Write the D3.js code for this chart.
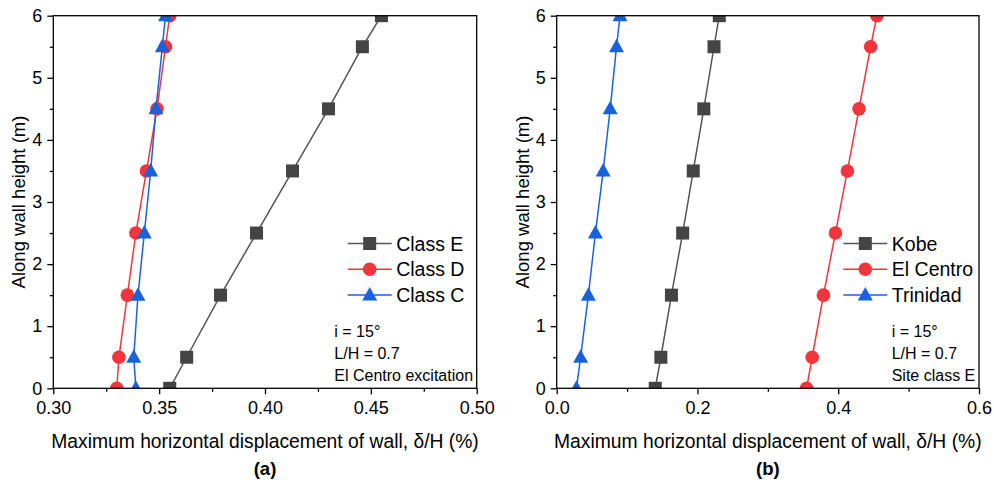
<!DOCTYPE html>
<html><head><meta charset="utf-8">
<script src="https://cdn.jsdelivr.net/npm/d3@7"></script>
<style>body{margin:0;background:#fff}svg{display:block;font-family:"Liberation Sans",Arial,sans-serif}</style>
</head><body><svg id="c" width="994" height="482"></svg>
<script>
const heights = [0, 0.5, 1.5, 2.5, 3.5, 4.5, 5.5, 6];
// Panel (a)
const seriesNamesA = ["Class E", "Class D", "Class C"];
const classE = [0.355, 0.363, 0.379, 0.396, 0.413, 0.430, 0.446, 0.455];
const classD = [0.330, 0.331, 0.335, 0.339, 0.344, 0.349, 0.353, 0.355];
const classC = [0.339, 0.338, 0.340, 0.343, 0.346, 0.3485, 0.3515, 0.353];
const xTicksA = [0.30, 0.35, 0.40, 0.45, 0.50];
const notesA = ["i = 15°", "L/H = 0.7", "El Centro excitation"];
// Panel (b)
const seriesNamesB = ["Kobe", "El Centro", "Trinidad"];
const kobe = [0.140, 0.148, 0.163, 0.179, 0.194, 0.209, 0.2235, 0.231];
const elCentro = [0.355, 0.363, 0.379, 0.396, 0.413, 0.4295, 0.446, 0.455];
const trinidad = [0.028, 0.034, 0.045, 0.055, 0.066, 0.076, 0.085, 0.090];
const xTicksB = [0, 0.2, 0.4, 0.6];
const notesB = ["i = 15°", "L/H = 0.7", "Site class E"];
const yTicks = [0, 1, 2, 3, 4, 5, 6];
const xLabel = "Maximum horizontal displacement of wall, δ/H (%)";
const yLabel = "Along wall height (m)";

const colors = ["#444444", "#f2343c", "#1a62dc"];
const lineColors = ["#555555", "#f2343c", "#1a62dc"];
const shapes = ["square", "circle", "triangle"];

const svg = d3.select("#c");

function marker(g, shape, color, x, y) {
  if (shape === "square") {
    g.append("rect").attr("x", x - 6.5).attr("y", y - 6.5).attr("width", 13).attr("height", 13).attr("fill", color);
  } else if (shape === "circle") {
    g.append("circle").attr("cx", x).attr("cy", y).attr("r", 6.8).attr("fill", color);
  } else {
    g.append("path").attr("d", `M${x},${y-8}L${x+7.5},${y+5.5}L${x-7.5},${y+5.5}Z`).attr("fill", color);
  }
}

function panel(id, x0, x1, xDomain, xTicks, xMinor, fmt, series, names, notes, legX, notesX, tag) {
  const y0 = 15.7, y1 = 388.3;
  const x = d3.scaleLinear().domain(xDomain).range([x0, x1]);
  const y = d3.scaleLinear().domain([0, 6]).range([y1, y0]);
  const g = svg.append("g");
  g.append("clipPath").attr("id", "clip" + id).append("rect")
    .attr("x", x0).attr("y", y0).attr("width", x1 - x0).attr("height", y1 - y0);

  // minor ticks
  const xa = d3.axisBottom(x).tickValues(xMinor).tickSize(3.5).tickFormat("");
  g.append("g").attr("transform", `translate(0,${y1})`).call(xa).call(s => s.select(".domain").remove())
    .selectAll("line").attr("stroke", "#000").attr("stroke-width", 1.3);
  const ya = d3.axisLeft(y).tickValues([0.5, 1.5, 2.5, 3.5, 4.5, 5.5]).tickSize(3.5).tickFormat("");
  g.append("g").attr("transform", `translate(${x0},0)`).call(ya).call(s => s.select(".domain").remove())
    .selectAll("line").attr("stroke", "#000").attr("stroke-width", 1.3);

  // major ticks
  const xb = d3.axisBottom(x).tickValues(xTicks).tickSize(6).tickPadding(7).tickFormat(d3.format(fmt));
  const gx = g.append("g").attr("transform", `translate(0,${y1})`).call(xb);
  gx.select(".domain").remove();
  gx.selectAll("line").attr("stroke", "#000").attr("stroke-width", 1.3);
  gx.selectAll("text").attr("font-size", 18).attr("fill", "#000").attr("font-family", "Liberation Sans, Arial, sans-serif");
  const yb = d3.axisLeft(y).tickValues(yTicks).tickSize(6).tickPadding(5).tickFormat(d3.format("d"));
  const gy = g.append("g").attr("transform", `translate(${x0},0)`).call(yb);
  gy.select(".domain").remove();
  gy.selectAll("line").attr("stroke", "#000").attr("stroke-width", 1.3);
  gy.selectAll("text").attr("font-size", 18).attr("fill", "#000").attr("font-family", "Liberation Sans, Arial, sans-serif");

  // data
  const data = g.append("g").attr("clip-path", `url(#clip${id})`);
  series.forEach((vals, i) => {
    const pts = vals.map((v, j) => [x(v), y(heights[j])]);
    data.append("path").attr("d", d3.line()(pts)).attr("fill", "none")
      .attr("stroke", lineColors[i]).attr("stroke-width", 1.5);
  });
  series.forEach((vals, i) => {
    vals.forEach((v, j) => marker(data, shapes[i], colors[i], x(v), y(heights[j])));
  });

  // frame
  g.append("rect").attr("x", x0).attr("y", y0).attr("width", x1 - x0).attr("height", y1 - y0)
    .attr("fill", "none").attr("stroke", "#000").attr("stroke-width", 1.3);

  // legend
  const legY = [243.5, 269.2, 295];
  names.forEach((n, i) => {
    g.append("line").attr("x1", legX).attr("x2", legX + 44).attr("y1", legY[i]).attr("y2", legY[i])
      .attr("stroke", lineColors[i]).attr("stroke-width", 1.5);
    marker(g, shapes[i], colors[i], legX + 22, legY[i]);
    g.append("text").attr("x", legX + 48.5).attr("y", legY[i] + 7).attr("font-size", 19.5).attr("fill", "#000").text(n);
  });

  // notes
  const noteY = [336.5, 359, 381];
  notes.forEach((t, i) => {
    g.append("text").attr("x", notesX).attr("y", noteY[i]).attr("font-size", 16).attr("fill", "#000").text(t);
  });

  // axis titles
  const cx = (x0 + x1) / 2;
  g.append("text").attr("x", cx).attr("y", 448.3).attr("text-anchor", "middle").attr("font-size", 19.3).attr("fill", "#000").text(xLabel);
  g.append("text").attr("x", cx).attr("y", 475).attr("text-anchor", "middle").attr("font-size", 18.5).attr("font-weight", "bold").attr("fill", "#000").text(tag);
  g.append("text").attr("transform", `translate(${x0 - 28},${(y0 + y1) / 2}) rotate(-90)`)
    .attr("text-anchor", "middle").attr("font-size", 18.5).attr("fill", "#000").text(yLabel);
}

panel("a", 53.3, 476.7, [0.30, 0.50], xTicksA, [0.325, 0.375, 0.425, 0.475], ".2f",
  [classE, classD, classC], seriesNamesA, notesA, 347.7, 334.3, "(a)");
panel("b", 556.7, 979, [0, 0.6], xTicksB, [0.1, 0.3, 0.5], ".1f",
  [kobe, elCentro, trinidad], seriesNamesB, notesB, 843.3, 891.7, "(b)");
</script></body></html>
